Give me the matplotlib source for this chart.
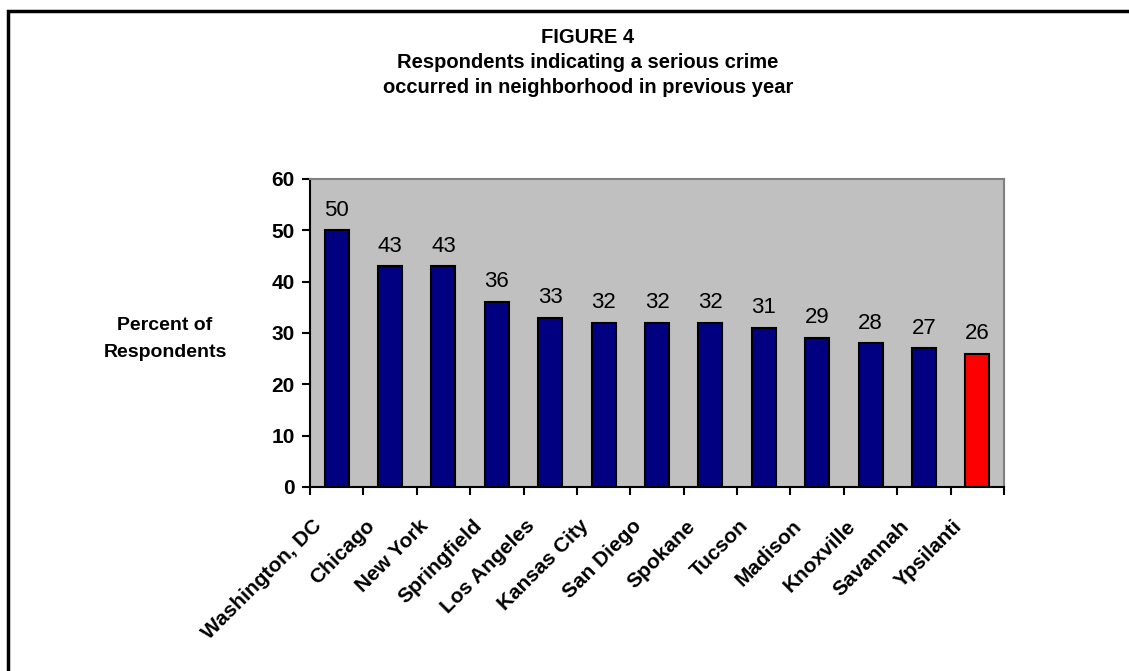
import matplotlib.pyplot as plt
from matplotlib.patches import Rectangle

# ── Data ─────────────────────────────────────────────────────────────────────
CITIES = ['Washington, DC', 'Chicago', 'New York', 'Springfield', 'Los Angeles',
          'Kansas City', 'San Diego', 'Spokane', 'Tucson', 'Madison',
          'Knoxville', 'Savannah', 'Ypsilanti']
PERCENTS = [50, 43, 43, 36, 33, 32, 32, 32, 31, 29, 28, 27, 26]
HIGHLIGHT = 'Ypsilanti'
Y_TICKS = [0, 10, 20, 30, 40, 50, 60]

NAVY = '#000080'
RED = '#FF0000'
GRAY = '#C0C0C0'

plt.rcParams['font.family'] = ['Liberation Sans', 'DejaVu Sans']

W, H = 1129, 671
fig = plt.figure(figsize=(W / 100, H / 100), dpi=100)

# outer frame (right/bottom edges run off the image)
fig.patches.append(Rectangle((8 / W, -0.1), 1.2, 1 - 11 / H + 0.1,
                             transform=fig.transFigure, fill=False,
                             edgecolor='black', linewidth=2.5))

ax = fig.add_axes([310 / W, 1 - 487 / H, (1004 - 310) / W, (487 - 179) / H])
ax.set_facecolor(GRAY)

x = list(range(len(CITIES)))
colors = [RED if c == HIGHLIGHT else NAVY for c in CITIES]
bars = ax.bar(x, PERCENTS, width=0.45, color=colors, edgecolor='black', linewidth=1.5)
ax.bar_label(bars, labels=[str(v) for v in PERCENTS], padding=7, fontsize=16)

ax.set_xlim(-0.5, len(CITIES) - 0.5)
ax.set_ylim(0, 60)
ax.set_yticks(Y_TICKS)
ax.set_yticklabels([str(t) for t in Y_TICKS], fontsize=15, fontweight='bold')
ax.set_xticks([i - 0.5 for i in range(len(CITIES) + 1)])
ax.set_xticklabels([])
ax.tick_params(axis='x', length=6, width=1.5, direction='out')
ax.tick_params(axis='y', length=6, width=1.5, direction='out', pad=5)

# rotated category labels
for i, city in enumerate(CITIES):
    ax.annotate(city, xy=(i, 0), xycoords=('data', 'axes fraction'),
                xytext=(-13, -26), textcoords='offset points',
                ha='right', va='center', rotation=45, rotation_mode='anchor',
                fontsize=15, fontweight='bold')

for side in ['left', 'bottom']:
    ax.spines[side].set_color('black')
    ax.spines[side].set_linewidth(1.5)
for side in ['top', 'right']:
    ax.spines[side].set_color('#808080')
    ax.spines[side].set_linewidth(1.5)

fig.text(165 / W, 1 - 339 / H, 'Percent of\nRespondents', ha='center', va='center',
         fontsize=14, fontweight='bold', linespacing=1.7)

fig.text(588 / W, 1 - 62.5 / H,
         'FIGURE 4\nRespondents indicating a serious crime\noccurred in neighborhood in previous year',
         ha='center', va='center', fontsize=14.5, fontweight='bold', linespacing=1.42)

fig.savefig('out.png', dpi=100)
